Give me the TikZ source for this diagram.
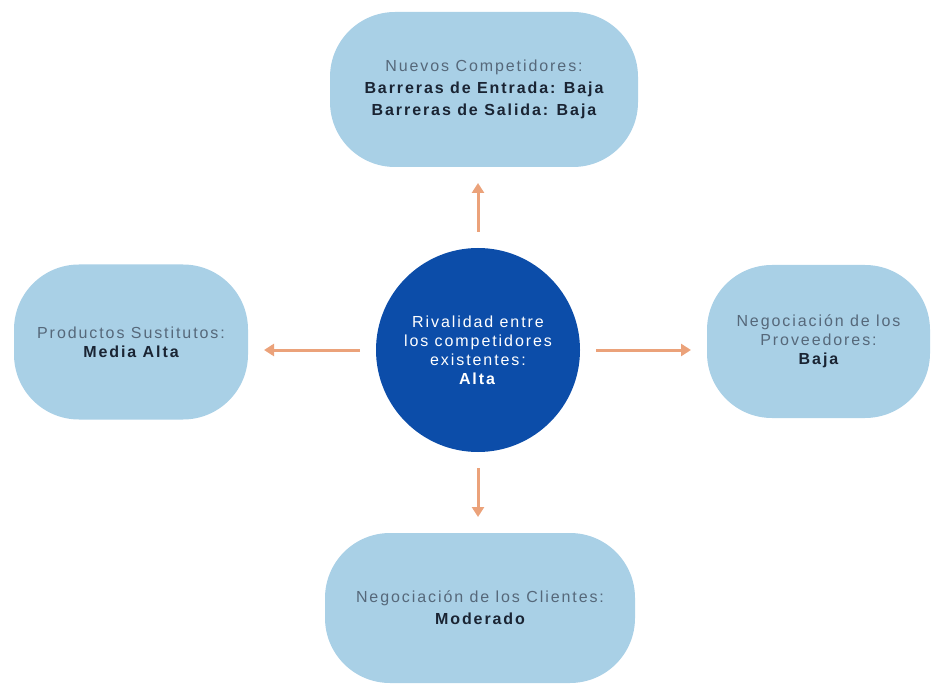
\documentclass[tikz,border=0pt]{standalone}
\usepackage{fontspec}
\setmainfont{Liberation Sans}
\newfontfamily\lab[LetterSpace=12]{Liberation Sans}
\usepackage{xcolor}
\usetikzlibrary{positioning, arrows.meta}

\definecolor{cajaazul}{HTML}{A9D0E6}
\definecolor{rivazul}{HTML}{0C4DA9}
\definecolor{flechanar}{HTML}{EBA27A}
\definecolor{titgris}{HTML}{56687A}
\definecolor{valoscuro}{HTML}{1A2433}

\newcommand{\valor}[1]{{\color{valoscuro}\bfseries #1}}

\begin{document}
\begin{tikzpicture}[x=1pt, y=-1pt,
		fuerza/.style={fill=cajaazul, rounded corners=65pt, align=center, inner sep=0pt, outer sep=0pt,
			text=titgris, font={\lab\fontsize{16}{22}\selectfont}},
		centro/.style={circle, fill=rivazul, minimum size=204pt, inner sep=0pt, outer sep=0pt,
			align=center, text=white, font={\lab\fontsize{16}{19}\selectfont}},
		flecha/.style={draw=flechanar, line width=3pt, -{Triangle[width=12pt, length=10pt]},
			shorten <=16pt, shorten >=16pt}]
		\useasboundingbox (0,0) rectangle (931,684);
		
		% circulo central
		\node[centro] (rival) at (478,350) {Rivalidad entre\\los competidores\\existentes:\\\textbf{Alta}};
		
		% las cuatro fuerzas
		\node[fuerza, minimum width=308pt, minimum height=155pt, above=81pt of rival, xshift=6pt] (nuevos)
			{Nuevos Competidores:\\\valor{Barreras de Entrada: Baja}\\\valor{Barreras de Salida: Baja}};
		\node[fuerza, minimum width=234pt, minimum height=155pt, left=128pt of rival, yshift=8pt,
			font={\lab\fontsize{16}{19}\selectfont}] (sustitutos)
			{Productos Sustitutos:\\\valor{Media Alta}};
		\node[fuerza, minimum width=223pt, minimum height=153pt, right=127pt of rival, yshift=8.5pt,
			font={\lab\fontsize{16}{19}\selectfont}] (proveedores)
			{Negociaci\'on de los\\Proveedores:\\\valor{Baja}};
		\node[fuerza, minimum width=310pt, minimum height=150pt, below=81pt of rival, xshift=2pt] (clientes)
			{Negociaci\'on de los Clientes:\\\valor{Moderado}};
		
		% flechas
		\draw[flecha] (rival.north) -- (rival.north |- nuevos.south);
		\draw[flecha] (rival.west) -- (rival.west -| sustitutos.east);
		\draw[flecha] (rival.east) -- (rival.east -| proveedores.west);
		\draw[flecha] (rival.south) -- (rival.south |- clientes.north);
	\end{tikzpicture}
\end{document}
